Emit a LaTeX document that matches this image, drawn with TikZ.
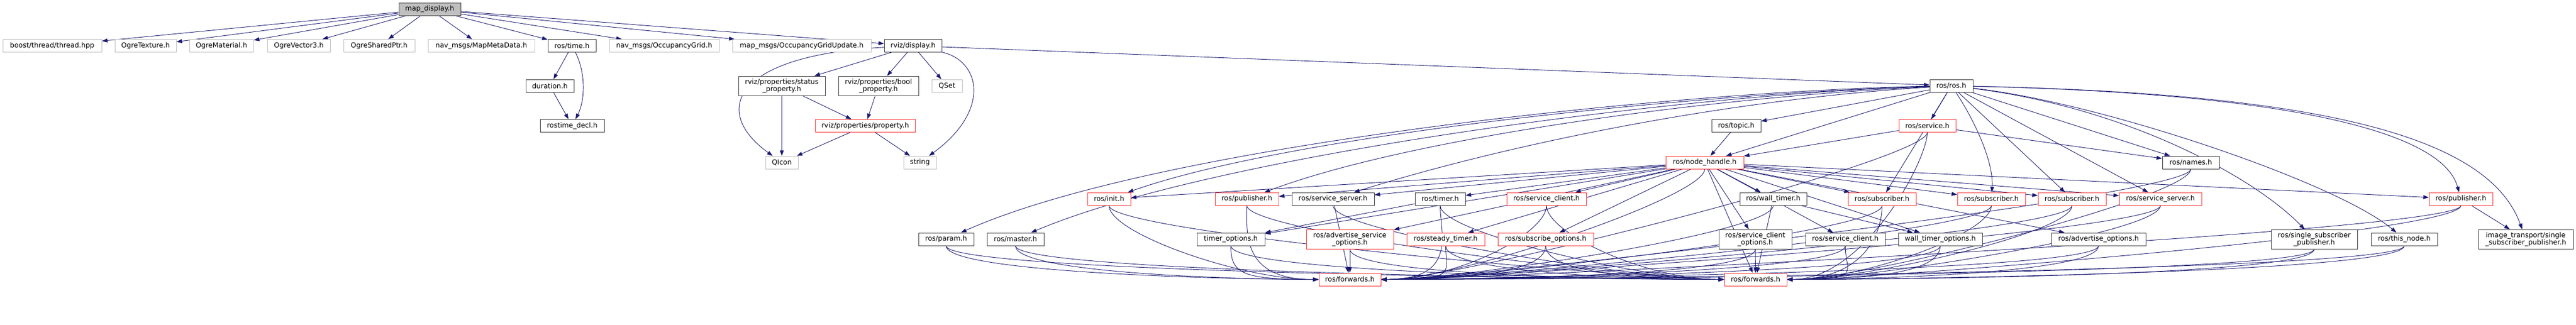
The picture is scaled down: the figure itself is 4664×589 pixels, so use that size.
\documentclass[tikz,border=0pt]{standalone}
\usepackage{fontspec}
\setmainfont{DejaVu Sans}
\usetikzlibrary{arrows.meta}
\pgfdeclarelayer{bg}
\pgfsetlayers{bg,main}
\definecolor{edgecol}{HTML}{191970}
\definecolor{redb}{HTML}{FF3333}
\definecolor{grayb}{HTML}{BFBFBF}
\definecolor{blackb}{HTML}{3C3C3C}
\newcommand\edgeL[2]{\draw[e] (#1) .. controls ([yshift=-50pt]#1.south) and ([xshift=-140pt]#2.west) .. (#2);}
\newcommand\edgeR[2]{\draw[e] (#1) .. controls ([yshift=-50pt]#1.south) and ([xshift=140pt]#2.east) .. (#2);}
\begin{document}
\begin{tikzpicture}[x=1pt,y=-1pt,
  nb/.style={draw=blackb, line width=1pt, fill=white, inner sep=0pt, minimum height=23pt,
             font=\fontsize{12.5}{13.5}\selectfont, align=center},
  rb/.style={nb, draw=redb},
  gb/.style={nb, draw=grayb},
  tall/.style={minimum height=35pt},
  e/.style={draw=edgecol, line width=0.9pt, -{Triangle[length=10pt,width=7pt]}},
]
\useasboundingbox (0,0) rectangle (4664,589);
% row 0
\node[nb, fill=grayb, minimum width=112pt] (md) at (778,16.5) {map\_display.h};
% row 1
\node[gb, minimum width=179pt] (boost) at (94.5,83) {boost/thread/thread.hpp};
\node[gb, minimum width=111pt] (ogretex) at (263.5,83) {OgreTexture.h};
\node[gb, minimum width=116pt] (ogremat) at (401,83) {OgreMaterial.h};
\node[gb, minimum width=114pt] (ogrevec) at (541,83) {OgreVector3.h};
\node[gb, minimum width=129pt] (ogreptr) at (686.5,83) {OgreSharedPtr.h};
\node[gb, minimum width=193pt] (mapmeta) at (871.5,83) {nav\_msgs/MapMetaData.h};
\node[nb, minimum width=87pt] (rostime) at (1035.5,83) {ros/time.h};
\node[gb, minimum width=199pt] (occgrid) at (1202.5,83) {nav\_msgs/OccupancyGrid.h};
\node[gb, minimum width=251pt] (occupd) at (1451.5,83) {map\_msgs/OccupancyGridUpdate.h};
\node[nb, minimum width=104pt] (display) at (1653,83) {rviz/display.h};
% row 2
\node[nb, minimum width=87pt] (duration) at (995.5,155.5) {duration.h};
\node[nb, tall, minimum width=157pt] (statusprop) at (1415.5,155.5) {rviz/properties/status\\\_property.h};
\node[nb, tall, minimum width=145pt] (boolprop) at (1590.5,155.5) {rviz/properties/bool\\\_property.h};
\node[gb, minimum width=55pt] (qset) at (1714.5,155.5) {QSet};
\node[nb, minimum width=78pt] (rosros) at (3533,155.5) {ros/ros.h};
% row 3
\node[nb, minimum width=116pt] (rostimedecl) at (1036,228) {rostime\_decl.h};
\node[rb, minimum width=181pt] (property) at (1566.5,228) {rviz/properties/property.h};
\node[nb, minimum width=89pt] (topic) at (3143.5,228) {ros/topic.h};
\node[rb, minimum width=103pt] (service) at (3489.5,228) {ros/service.h};
% row 4
\node[gb, minimum width=59pt] (qicon) at (1415.5,294.5) {QIcon};
\node[gb, minimum width=59pt] (string) at (1665.5,294.5) {string};
\node[rb, minimum width=141pt] (nodehandle) at (3086.5,294.5) {ros/node\_handle.h};
\node[nb, minimum width=103pt] (names) at (3966.5,294.5) {ros/names.h};
% row 5
\node[rb, minimum width=78pt] (init) at (2008,360.5) {ros/init.h};
\node[rb, minimum width=115pt] (pub1) at (2257.5,360.5) {ros/publisher.h};
\node[nb, minimum width=149pt] (ssrv1) at (2413.5,360.5) {ros/service\_server.h};
\node[nb, minimum width=91pt] (timer) at (2607.5,360.5) {ros/timer.h};
\node[rb, minimum width=144pt] (sclient1) at (2800,360.5) {ros/service\_client.h};
\node[nb, minimum width=121pt] (walltimer) at (3210.5,360.5) {ros/wall\_timer.h};
\node[rb, minimum width=123pt] (sub1) at (3407.5,360.5) {ros/subscriber.h};
\node[rb, minimum width=123pt] (sub2) at (3605.5,360.5) {ros/subscriber.h};
\node[rb, minimum width=123pt] (sub3) at (3751.5,360.5) {ros/subscriber.h};
\node[rb, minimum width=149pt] (ssrv2) at (3911.5,360.5) {ros/service\_server.h};
\node[rb, minimum width=115pt] (pub2) at (4455.5,360.5) {ros/publisher.h};
% row 6
\node[nb, minimum width=100pt] (param) at (1713,433.5) {ros/param.h};
\node[nb, minimum width=103pt] (master) at (1838.5,433.5) {ros/master.h};
\node[nb, minimum width=123pt] (timeropt) at (2228.5,433.5) {timer\_options.h};
\node[rb, tall, minimum width=158pt] (advsrvopt) at (2444,433.5) {ros/advertise\_service\\\_options.h};
\node[rb, minimum width=141pt] (steady) at (2617.5,433.5) {ros/steady\_timer.h};
\node[rb, minimum width=173pt] (subopt) at (2798.5,433.5) {ros/subscribe\_options.h};
\node[nb, tall, minimum width=132pt] (sclientopt) at (3178,433.5) {ros/service\_client\\\_options.h};
\node[nb, minimum width=144pt] (sclient2) at (3341,433.5) {ros/service\_client.h};
\node[nb, minimum width=152pt] (walltimeropt) at (3513,433.5) {wall\_timer\_options.h};
\node[nb, minimum width=171pt] (advopt) at (3799.5,433.5) {ros/advertise\_options.h};
\node[nb, tall, minimum width=156pt] (sspub) at (4190,433.5) {ros/single\_subscriber\\\_publisher.h};
\node[nb, minimum width=120pt] (thisnode) at (4353,433.5) {ros/this\_node.h};
\node[nb, tall, minimum width=172pt] (itsspub) at (4573,433.5) {image\_transport/single\\\_subscriber\_publisher.h};
% row 7
\node[rb, minimum width=112pt] (fwda) at (2444,506.5) {ros/forwards.h};
\node[rb, minimum width=113pt] (fwdb) at (3178.5,506.5) {ros/forwards.h};

\begin{pgfonlayer}{bg}
\foreach \a/\b in {md/boost, md/ogretex, md/ogremat, md/ogrevec, md/ogreptr, md/mapmeta,
  md/rostime, md/occgrid, md/occupd, md/display,
  rostime/duration, duration/rostimedecl,
  display/rosros, display/statusprop, display/boolprop, display/qset,
  statusprop/qicon, statusprop/property, boolprop/property, property/qicon, property/string,
  rosros/topic, rosros/service, rosros/nodehandle, rosros/names,
  rosros/sub1, rosros/sub3, rosros/ssrv2,
  service/nodehandle, service/names, topic/nodehandle,
  nodehandle/init, nodehandle/pub1, nodehandle/ssrv1, nodehandle/timer, nodehandle/sclient1,
  nodehandle/walltimer, nodehandle/sub1, nodehandle/sub2, nodehandle/sub3, nodehandle/ssrv2,
  nodehandle/pub2, nodehandle/timeropt, nodehandle/advsrvopt, nodehandle/steady,
  nodehandle/subopt, nodehandle/sclientopt, nodehandle/sclient2, nodehandle/walltimeropt,
  nodehandle/advopt,
  timer/timeropt, walltimer/walltimeropt, pub2/itsspub,
  ssrv1/fwda, advsrvopt/fwda, nodehandle/fwdb, walltimer/fwdb, sclientopt/fwdb}
  {\draw[e] (\a) -- (\b);}
% curved connectors
\draw[e] (rostime) .. controls (1060,130) and (1060,180) .. (rostimedecl);
\draw[e] (display) .. controls (1330,100) and (1285,200) .. (qicon);
\draw[e] (display) .. controls (1775,110) and (1795,200) .. (string);
% ros.h to the left, long sweeping curves
\draw[e] (rosros) .. controls (3100,168) and (2350,240) .. (init);
\draw[e] (rosros) .. controls (3100,175) and (2550,250) .. (pub1);
\draw[e] (rosros) .. controls (3100,182) and (2700,270) .. (ssrv1);
\draw[e] (rosros) .. controls (3050,164) and (2100,260) .. (param);
\draw[e] (rosros) .. controls (3050,170) and (2200,280) .. (master);
% ros.h downwards / to the right
\draw[e] (rosros) .. controls (3570,210) and (3610,290) .. (sub2);
\draw[e] (rosros) .. controls (4100,168) and (4420,230) .. (pub2);
\draw[e] (rosros) .. controls (4250,170) and (4510,260) .. (itsspub);
\draw[e] (rosros) .. controls (3850,195) and (4080,320) .. (sspub);
\draw[e] (rosros) .. controls (3800,185) and (4230,330) .. (thisnode);
% into the forwards.h nodes
\foreach \s in {param, master, init, pub1, timeropt} {\edgeL{\s}{fwda}}
\foreach \s in {timer, sclient1, steady, subopt, nodehandle, walltimer, sub1, sub2, sub3,
  ssrv2, pub2, sclientopt, sclient2, walltimeropt, advopt, sspub, thisnode, names, service}
  {\edgeR{\s}{fwda}}
\foreach \s in {param, master, init, pub1, ssrv1, timer, sclient1, timeropt, advsrvopt,
  steady, subopt} {\edgeL{\s}{fwdb}}
\foreach \s in {sub1, sub2, sub3, ssrv2, pub2, sclient2, walltimeropt, advopt, sspub,
  thisnode, names, service} {\edgeR{\s}{fwdb}}
\end{pgfonlayer}
\end{tikzpicture}
\end{document}
